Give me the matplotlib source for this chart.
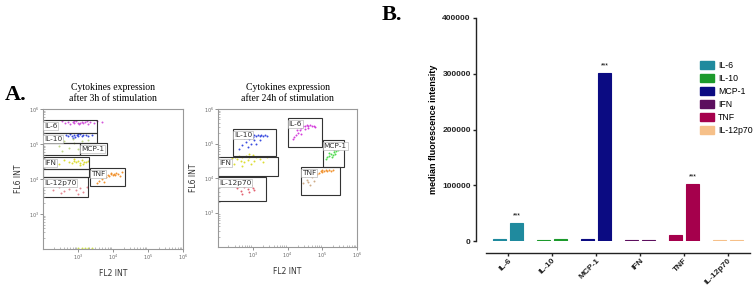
import numpy as np
import matplotlib
matplotlib.use("Agg")
import matplotlib.pyplot as plt
from matplotlib.patches import Rectangle, Patch

# ---------------- panel B data ----------------
cytokines = ["IL-6", "IL-10", "MCP-1", "IFN", "TNF", "IL-12p70"]
mfi_3h = [3000, 2500, 4000, 2000, 11000, 1500]
mfi_24h = [32000, 3000, 301000, 2000, 102000, 1500]
signif = ["***", "", "***", "", "***", ""]
bar_colors = ["#1f8a9e", "#1c9a2c", "#0b0b82", "#5c0f5e", "#a5004c", "#f6c089"]

# ---------------- panel A gates (log10 units) ----------------
gate_names_3h = ["IL-6", "IL-10", "", "MCP-1", "IFN", "", "TNF", "IL-12p70"]
gate_x0_3h = [2.0, 2.0, 2.0, 3.06, 2.0, 2.0, 3.34, 2.0]
gate_x1_3h = [3.54, 3.54, 3.06, 3.83, 3.31, 3.31, 4.34, 3.29]
gate_y0_3h = [5.31, 5.03, 4.69, 4.69, 4.29, 4.06, 3.80, 3.49]
gate_y1_3h = [5.69, 5.31, 5.03, 5.03, 4.63, 4.29, 4.31, 4.06]

gate_names_24h = ["IL-10", "IL-6", "MCP-1", "IFN", "TNF", "IL-12p70"]
gate_x0_24h = [2.43, 4.0, 5.01, 2.0, 4.38, 2.0]
gate_x1_24h = [3.68, 4.99, 5.62, 3.74, 5.5, 3.39]
gate_y0_24h = [4.64, 4.9, 4.32, 4.06, 3.51, 3.33]
gate_y1_24h = [5.42, 5.74, 5.1, 4.61, 4.32, 4.03]

# ---------------- panel A events (log10 FL2, log10 FL6) ----------------
il6_3h = [(2.62, 5.6), (2.7, 5.63), (2.78, 5.58), (2.85, 5.62), (2.9, 5.6), (2.95, 5.65),
          (3.0, 5.61), (3.05, 5.59), (3.1, 5.63), (3.15, 5.6), (3.2, 5.62), (3.28, 5.58),
          (3.35, 5.64), (3.45, 5.6), (3.55, 5.66), (3.7, 5.62), (2.55, 5.66), (3.02, 5.56),
          (2.88, 5.66), (3.25, 5.67)]
il10_3h = [(2.65, 5.25), (2.72, 5.22), (2.78, 5.28), (2.82, 5.24), (2.88, 5.26), (2.92, 5.21),
           (2.96, 5.27), (3.0, 5.24), (3.05, 5.28), (3.1, 5.23), (3.15, 5.26), (3.22, 5.25),
           (3.3, 5.22), (3.4, 5.27), (2.85, 5.18), (3.0, 5.3)]
mcp1_3h = [(2.3, 5.05), (2.45, 4.95), (2.6, 5.1), (2.75, 4.9), (2.9, 5.02), (3.0, 4.85),
           (3.1, 5.08), (3.2, 4.95), (3.3, 5.12), (2.55, 4.8), (2.85, 5.14), (3.4, 4.9)]
ifn_3h = [(2.75, 4.5), (2.82, 4.47), (2.88, 4.52), (2.94, 4.49), (3.0, 4.51), (3.06, 4.46),
          (3.12, 4.53), (3.18, 4.5), (3.24, 4.48), (3.3, 4.52), (2.6, 4.55), (2.45, 4.42),
          (3.05, 4.4), (2.9, 4.58), (3.15, 4.42)]
tnf_3h = [(3.85, 4.12), (3.9, 4.1), (3.95, 4.14), (4.0, 4.11), (4.03, 4.15), (4.07, 4.12),
          (4.1, 4.16), (4.14, 4.13), (4.2, 4.1), (3.8, 4.05), (3.7, 4.0), (3.6, 3.95),
          (4.25, 4.2), (3.95, 4.18), (3.55, 3.88), (3.75, 3.92)]
il12_3h = [(2.3, 3.7), (2.45, 3.78), (2.6, 3.65), (2.75, 3.72), (2.85, 3.8), (2.95, 3.68),
           (3.05, 3.75), (3.15, 3.62), (3.25, 3.78), (2.5, 3.6), (2.7, 3.85), (3.0, 3.58)]
debris_3h = [(3.0, 2.03), (3.1, 2.02), (3.2, 2.04), (3.3, 2.02), (3.4, 2.03)]

il10_24h = [(3.05, 5.24), (3.1, 5.22), (3.15, 5.26), (3.2, 5.23), (3.25, 5.25), (3.3, 5.22),
            (3.35, 5.24), (3.42, 5.23), (3.0, 5.18), (2.9, 5.12), (2.8, 5.05), (2.95, 5.0),
            (2.7, 4.95), (2.85, 4.9), (3.05, 5.1), (2.75, 5.15), (3.1, 4.98), (2.6, 4.85),
            (3.2, 5.1)]
il6_24h = [(4.45, 5.52), (4.5, 5.5), (4.55, 5.54), (4.6, 5.51), (4.65, 5.53), (4.7, 5.5),
           (4.75, 5.52), (4.8, 5.49), (4.4, 5.45), (4.35, 5.38), (4.3, 5.3), (4.25, 5.25),
           (4.2, 5.2), (4.38, 5.28), (4.15, 5.12), (4.5, 5.42), (4.28, 5.4), (4.6, 5.45)]
mcp1_24h = [(5.15, 4.6), (5.2, 4.65), (5.25, 4.7), (5.3, 4.68), (5.35, 4.75), (5.4, 4.78),
            (5.28, 4.62), (5.45, 4.82), (5.2, 4.72), (5.33, 4.8), (5.12, 4.55), (5.38, 4.7)]
ifn_24h = [(2.5, 4.62), (2.6, 4.65), (2.7, 4.6), (2.8, 4.64), (2.9, 4.62), (3.0, 4.66),
           (3.1, 4.61), (2.55, 4.55), (2.65, 4.5), (2.75, 4.45), (2.85, 4.52), (2.95, 4.4),
           (3.05, 4.48), (3.2, 4.55), (2.4, 4.58), (2.3, 4.5), (3.3, 4.45), (2.7, 4.35),
           (2.9, 4.7), (3.4, 4.6), (2.45, 4.42)]
tnf_24h = [(4.95, 4.2), (5.0, 4.22), (5.05, 4.19), (5.1, 4.23), (5.15, 4.2), (5.2, 4.24),
           (5.25, 4.21), (4.9, 4.15), (4.85, 4.12), (5.3, 4.22), (5.0, 4.16)]
tnf_tail_24h = [(4.45, 3.85), (4.55, 3.95), (4.6, 3.88), (4.7, 4.02), (4.75, 3.92),
                (4.5, 4.05), (4.65, 3.8), (4.8, 4.08)]
il12_24h = [(2.55, 3.7), (2.65, 3.62), (2.75, 3.75), (2.85, 3.68), (2.9, 3.58), (3.0, 3.72),
            (2.7, 3.55), (2.95, 3.8), (3.05, 3.65), (2.6, 3.78)]

events_3h = [(il6_3h, "#cf45d8"), (il10_3h, "#2438dc"), (mcp1_3h, "#b8d27a"),
             (ifn_3h, "#dada1e"), (tnf_3h, "#f0881a"), (il12_3h, "#e07a86"),
             (debris_3h, "#c8dc40")]
events_24h = [(il10_24h, "#2438dc"), (il6_24h, "#cf2ad8"), (mcp1_24h, "#3cd83c"),
              (ifn_24h, "#dada1e"), (tnf_24h, "#f0881a"), (tnf_tail_24h, "#c9a27a"),
              (il12_24h, "#e05060")]

fig = plt.figure(figsize=(7.56, 2.88), dpi=100)
W, H = 756.0, 288.0
PT = 72.0 / 100  # points per pixel


def px_axes(left, top, right, bottom):
    return fig.add_axes([left / W, 1 - bottom / H, (right - left) / W, (bottom - top) / H])


def draw_flow(ax, events, names, x0, x1, y0, y1, title):
    for pts, col in events:
        arr = np.array(pts)
        ax.scatter(10 ** arr[:, 0], 10 ** arr[:, 1], s=2.0, c=col, lw=0, alpha=0.9)
    for n, a, b, c, d in zip(names, x0, x1, y0, y1):
        ax.add_patch(Rectangle((10 ** a, 10 ** c), 10 ** b - 10 ** a, 10 ** d - 10 ** c,
                               fill=False, ec="#333333", lw=0.8))
        if n:
            ax.text(10 ** (a + 0.03), 10 ** (d - 0.17), n, fontsize=5.3, color="#333333",
                    va="center", ha="left", family="DejaVu Sans",
                    bbox=dict(boxstyle="square,pad=0.1", fc="white", ec="#aaaaaa", lw=0.4))
    ax.set_xscale("log")
    ax.set_yscale("log")
    ax.set_xlim(1e2, 1e6)
    ax.set_ylim(1e2, 1e6)
    ax.set_xticks([1e3, 1e4, 1e5, 1e6])
    ax.set_yticks([1e3, 1e4, 1e5, 1e6])
    ax.tick_params(labelsize=3.5, length=2, width=0.5, colors="#666666", pad=1)
    ax.tick_params(which="minor", length=1.5, width=0.4, colors="#888888", direction="in")
    for s in ax.spines.values():
        s.set_color("#999999")
        s.set_linewidth(0.8)
    ax.set_xlabel("FL2 INT", fontsize=5.5, color="#333333", labelpad=5)
    ax.set_ylabel("FL6 INT", fontsize=5.5, color="#333333", labelpad=4)
    ax.set_title(title, fontsize=7, family="Liberation Serif", pad=6, linespacing=1.25)


ax1 = px_axes(43, 109, 183, 249)
draw_flow(ax1, events_3h, gate_names_3h, gate_x0_3h, gate_x1_3h, gate_y0_3h, gate_y1_3h,
          "Cytokines expression\nafter 3h of stimulation")
ax2 = px_axes(218, 109, 357, 247)
draw_flow(ax2, events_24h, gate_names_24h, gate_x0_24h, gate_x1_24h, gate_y0_24h, gate_y1_24h,
          "Cytokines expression\nafter 24h of stimulation")

fig.text(5 / W, 1 - 95 / H, "A.", fontsize=16, fontweight="bold", family="Liberation Serif",
         va="center")
fig.text(382 / W, 1 - 15 / H, "B.", fontsize=16, fontweight="bold", family="Liberation Serif",
         va="center")

# ---------------- panel B ----------------
axb = px_axes(486, 18, 750, 241)
# spines first: set_position resets the ticks
axb.spines["top"].set_visible(False)
axb.spines["right"].set_visible(False)
axb.spines["left"].set_position(("outward", 10 * PT))
axb.spines["bottom"].set_position(("outward", 12 * PT))
for s in ("left", "bottom"):
    axb.spines[s].set_linewidth(1.0)
    axb.spines[s].set_color("#222222")

x = np.arange(len(cytokines))
w, off = 0.3, 0.19
axb.bar(x - off, mfi_3h, w, color=bar_colors, edgecolor=bar_colors, lw=0.8)
axb.bar(x + off, mfi_24h, w, color=bar_colors, edgecolor=bar_colors, lw=0.8)
for xi, v, s in zip(x, mfi_24h, signif):
    if s:
        axb.text(xi + off, v + 6000, s, ha="center", va="bottom", fontsize=5,
                 family="Liberation Sans")
axb.set_xlim(-0.5, len(cytokines) - 0.5)
axb.set_ylim(0, 400000)
axb.tick_params(length=2.5, width=1.0, pad=1.2, colors="#222222")
axb.tick_params(axis="x", pad=0.5)
axb.set_yticks([0, 100000, 200000, 300000, 400000])
axb.set_yticklabels(["0", "100000", "200000", "300000", "400000"], fontsize=6,
                    fontweight="bold", family="Liberation Sans")
axb.set_xticks(x)
axb.set_xticklabels(cytokines, rotation=45, ha="right", rotation_mode="anchor",
                    fontsize=6, fontweight="bold", family="Liberation Sans")
axb.set_ylabel("median fluorescence intensity", fontsize=6.5, fontweight="bold",
               family="Liberation Sans", labelpad=3)

handles = [Patch(facecolor=c, edgecolor=c) for c in bar_colors]
fig.legend(handles, cytokines, loc="upper left", bbox_to_anchor=(696 / W, 1 - 57 / H),
           frameon=False, handlelength=1.5, handleheight=1.0,
           handletextpad=0.5, labelspacing=0.45, borderpad=0,
           prop={"family": "Liberation Sans", "size": 6.3})

fig.savefig("out.png", dpi=100)
